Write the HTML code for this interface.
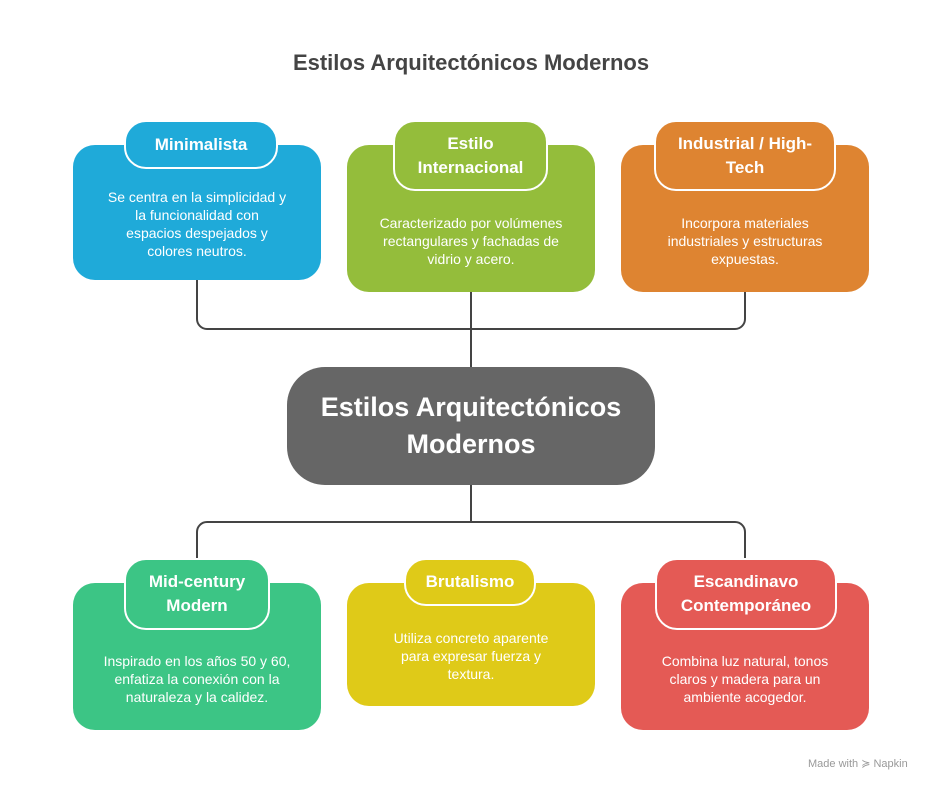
<!DOCTYPE html>
<html><head><meta charset="utf-8"><style>
body{margin:0;width:942px;height:793px;background:#fff;position:relative;font-family:"Liberation Sans",sans-serif;overflow:hidden}
.a{position:absolute;box-sizing:border-box}
.card{border-radius:22px;color:#fff;font-size:14px;line-height:18px;text-align:center;display:flex;align-items:center;justify-content:center;padding:0 10px;white-space:nowrap}
.tab{border-radius:22px;border:2px solid #fff;color:#fff;font-weight:bold;font-size:17px;line-height:24px;text-align:center;display:flex;align-items:center;justify-content:center}
</style></head><body>
<div class="a" style="left:0;top:50px;width:942px;text-align:center;font-size:22px;font-weight:bold;color:#444">Estilos Arquitectónicos Modernos</div>
<svg class="a" style="left:0;top:0" width="942" height="793">
<g fill="none" stroke="#444" stroke-width="2">
<path d="M197 280 V319 a10 10 0 0 0 10 10 H735 a10 10 0 0 0 10 -10 V292"/>
<path d="M471 292 V368"/>
<path d="M471 484 V522"/>
<path d="M197 560 V532 a10 10 0 0 1 10 -10 H735 a10 10 0 0 1 10 10 V560"/>
</g></svg>
<div class="a card" style="left:73px;top:145px;width:248px;height:135px;background:#1faad9;padding-top:22px">Se centra en la simplicidad y<br>la funcionalidad con<br>espacios despejados y<br>colores neutros.</div>
<div class="a tab" style="left:124px;top:120px;width:154px;height:49px;background:#1faad9">Minimalista</div>
<div class="a card" style="left:347px;top:145px;width:248px;height:147px;background:#94bd3b;padding-top:44px">Caracterizado por volúmenes<br>rectangulares y fachadas de<br>vidrio y acero.</div>
<div class="a tab" style="left:393px;top:120px;width:155px;height:71px;background:#94bd3b">Estilo<br>Internacional</div>
<div class="a card" style="left:621px;top:145px;width:248px;height:147px;background:#de8431;padding-top:44px">Incorpora materiales<br>industriales y estructuras<br>expuestas.</div>
<div class="a tab" style="left:654px;top:120px;width:182px;height:71px;background:#de8431">Industrial / High-<br>Tech</div>
<div class="a" style="left:287px;top:367px;width:368px;height:118px;background:#666;border-radius:38px;color:#fff;font-weight:bold;font-size:27px;line-height:37px;text-align:center;display:flex;align-items:center;justify-content:center">Estilos Arquitectónicos<br>Modernos</div>
<div class="a card" style="left:73px;top:583px;width:248px;height:147px;background:#3cc585;padding-top:44px">Inspirado en los años 50 y 60,<br>enfatiza la conexión con la<br>naturaleza y la calidez.</div>
<div class="a tab" style="left:124px;top:558px;width:146px;height:72px;background:#3cc585">Mid-century<br>Modern</div>
<div class="a card" style="left:347px;top:583px;width:248px;height:123px;background:#dfca18;padding-top:22px">Utiliza concreto aparente<br>para expresar fuerza y<br>textura.</div>
<div class="a tab" style="left:404px;top:558px;width:132px;height:48px;background:#dfca18">Brutalismo</div>
<div class="a card" style="left:621px;top:583px;width:248px;height:147px;background:#e45a55;padding-top:44px">Combina luz natural, tonos<br>claros y madera para un<br>ambiente acogedor.</div>
<div class="a tab" style="left:655px;top:558px;width:182px;height:72px;background:#e45a55">Escandinavo<br>Contemporáneo</div>
<div class="a" style="left:808px;top:757px;font-size:11px;color:#999">Made with ≽ Napkin</div>
</body></html>
